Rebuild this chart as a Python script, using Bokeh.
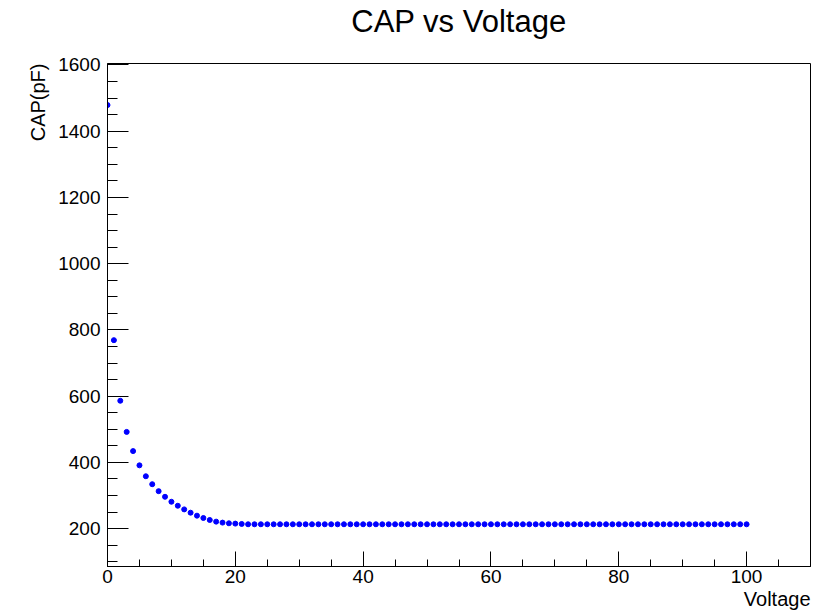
from bokeh.plotting import figure
from bokeh.models import Range1d, SingleIntervalTicker, Title
from bokeh.embed import file_html
from bokeh.resources import INLINE

title_text = "CAP vs Voltage"
x_title = "Voltage"
y_title = "CAP(pF)"

voltage = list(range(0, 101))
cap = [1479, 769, 586, 492, 434, 391, 358, 334, 313, 296,
       281, 269, 258, 248, 239, 232, 226, 221, 218, 216,
       215, 214, 213, 213, 213, 213, 213, 213, 213, 213,
       213, 213, 213, 213, 213, 213, 213, 213, 213, 213,
       213, 213, 213, 213, 213, 213, 213, 213, 213, 213,
       213, 213, 213, 213, 213, 213, 213, 213, 213, 213,
       213, 213, 213, 213, 213, 213, 213, 213, 213, 213,
       213, 213, 213, 213, 213, 213, 213, 213, 213, 213,
       213, 213, 213, 213, 213, 213, 213, 213, 213, 213,
       213, 213, 213, 213, 213, 213, 213, 213, 213, 213,
       213]

FONT = "Liberation Sans"

p = figure(width=823, height=610, output_backend="svg", toolbar_location=None,
           x_range=Range1d(0, 110), y_range=Range1d(85.5, 1604.5), title=None)
p.min_border_left = 107
p.min_border_right = 13
p.min_border_top = 63
p.min_border_bottom = 44
p.background_fill_color = "white"
p.border_fill_color = "white"
p.outline_line_color = "black"
p.outline_line_width = 1
p.xgrid.visible = False
p.ygrid.visible = False

p.xaxis.ticker = SingleIntervalTicker(interval=20, num_minor_ticks=4)
p.yaxis.ticker = SingleIntervalTicker(interval=200, num_minor_ticks=4)

for ax in (p.xaxis, p.yaxis):
    ax.axis_line_color = "black"
    ax.major_tick_line_color = "black"
    ax.minor_tick_line_color = "black"
    ax.major_tick_out = 0
    ax.minor_tick_out = 0
    ax.major_label_text_font = FONT
    ax.major_label_text_font_size = "19px"
    ax.major_label_text_color = "black"

p.xaxis.major_tick_in = 15
p.xaxis.minor_tick_in = 7
p.xaxis.major_label_standoff = 3
p.yaxis.major_tick_in = 21
p.yaxis.minor_tick_in = 10
p.yaxis.major_label_standoff = 7

p.scatter(voltage, cap, marker="circle", size=5, fill_color="#0000ff",
          line_color="#0000ff")

# spacer (blank) placed next to the frame, pushing the main title upward
p.add_layout(Title(text=" ", text_font=FONT, text_font_size="21px",
                   standoff=0, text_color="white"), "above")
p.add_layout(Title(text=title_text, align="center", text_font=FONT,
                   text_font_size="31px", text_font_style="normal",
                   text_color="black", standoff=0), "above")
p.add_layout(Title(text=x_title, align="right", text_font=FONT,
                   text_font_size="20px", text_font_style="normal",
                   text_color="black", standoff=0), "below")
p.add_layout(Title(text=y_title, align="right", text_font=FONT,
                   text_font_size="20px", text_font_style="normal",
                   text_color="black", standoff=13), "left")

open("out.html", "w").write(file_html(p, INLINE))
